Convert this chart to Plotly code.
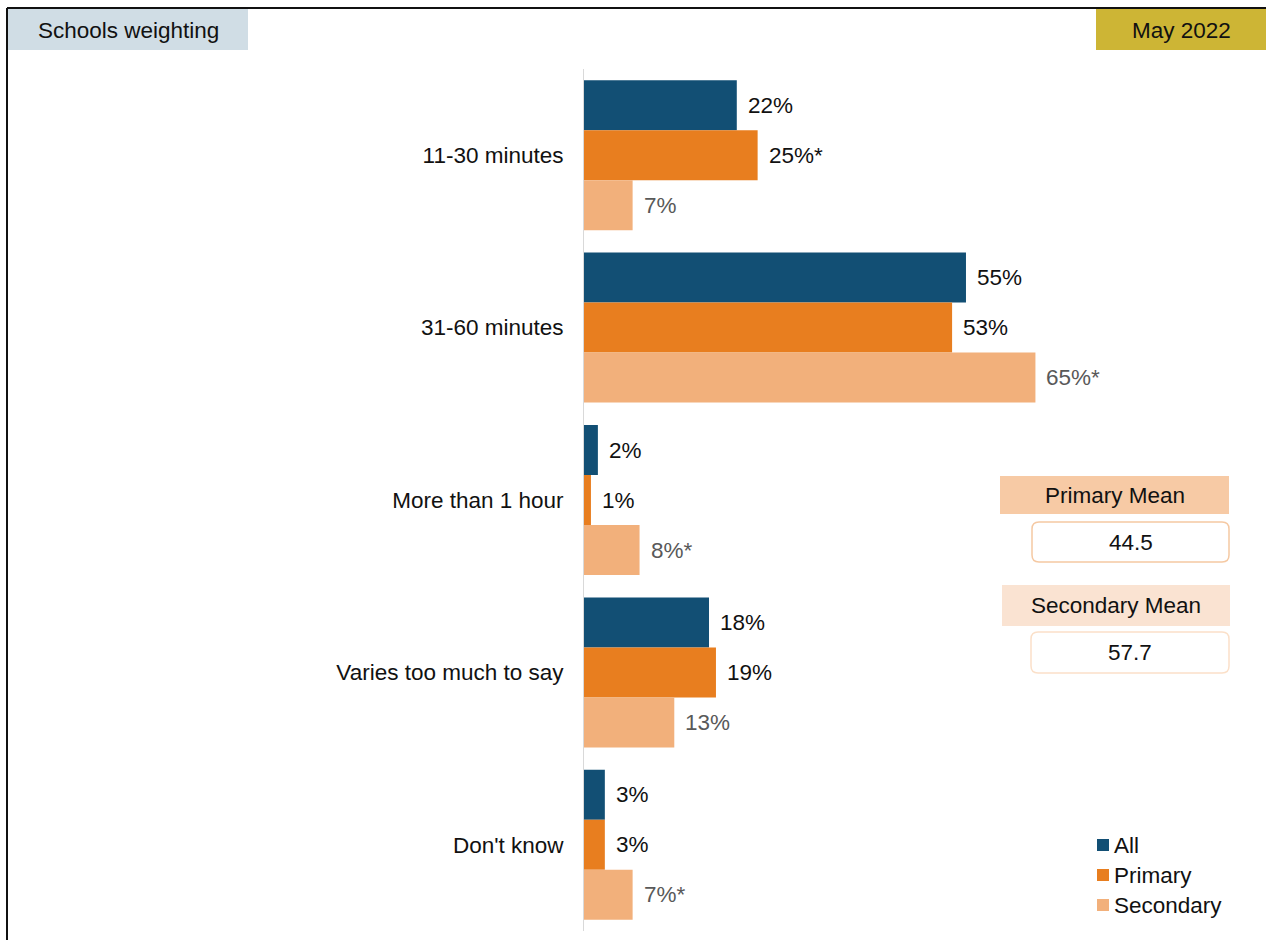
import plotly.graph_objects as go

# ---- data ----
categories = ["11-30 minutes", "31-60 minutes", "More than 1 hour",
              "Varies too much to say", "Don't know"]
series_names = ["All", "Primary", "Secondary"]
all_vals = [22, 55, 2, 18, 3]
primary_vals = [25, 53, 1, 19, 3]
secondary_vals = [7, 65, 8, 13, 7]
# significance markers shown after the percentage
primary_sig = [True, False, False, False, False]
secondary_sig = [False, True, True, False, True]
all_sig = [False] * 5

means_labels = ["Primary Mean", "Secondary Mean"]
means_values = [44.5, 57.7]

header_left = "Schools weighting"
header_right = "May 2022"

# ---- styling ----
FONT = "Liberation Sans, Arial, sans-serif"
FS = 22.5
colors = ["#124f74", "#e87e1f", "#f2b07b"]
label_colors = ["#111111", "#111111", "#595959"]

W, H = 1266, 940
PL, PR, PT, PB = 584, 1240, 69, 931  # plot area in pixels
X_MAX = (PR - PL) / 6.945


def fx(px):
    return (px - PL) / (PR - PL)


def fy(py):
    return (PB - py) / (PB - PT)


fig = go.Figure()
values = [all_vals, primary_vals, secondary_vals]
sigs = [all_sig, primary_sig, secondary_sig]
for name, vals, col in zip(series_names, values, colors):
    fig.add_trace(go.Bar(
        y=categories, x=vals, name=name, orientation="h",
        marker=dict(color=col, line=dict(width=0)),
        showlegend=False, hoverinfo="skip",
    ))

annotations = []
shapes = []

# value labels beside each bar
offsets = [-50, 0, 50]
for s, (vals, sg) in enumerate(zip(values, sigs)):
    for cat, v, star in zip(categories, vals, sg):
        annotations.append(dict(
            x=v, y=cat, xref="x", yref="y",
            text=f"{v}%" + ("*" if star else ""),
            showarrow=False, xanchor="left", yanchor="middle",
            xshift=9, yshift=-offsets[s],
            font=dict(family=FONT, size=FS, color=label_colors[s]),
        ))

# outer frame lines (top and left)
shapes.append(dict(type="line", xref="paper", yref="paper",
                   x0=fx(7), x1=fx(1266), y0=fy(8), y1=fy(8),
                   line=dict(color="#111111", width=2)))
shapes.append(dict(type="line", xref="paper", yref="paper",
                   x0=fx(7), x1=fx(7), y0=fy(8), y1=fy(940),
                   line=dict(color="#111111", width=2)))


def rect(x0, y0, x1, y1, fill, line_color=None, lw=0):
    return dict(type="rect", xref="paper", yref="paper",
                x0=fx(x0), x1=fx(x1), y0=fy(y0), y1=fy(y1),
                fillcolor=fill, layer="below",
                line=dict(color=line_color or fill, width=lw))


def rounded(x0, y0, x1, y1, r, color):
    a, b, c, d = fx(x0), fx(x1), fy(y0), fy(y1)
    rx = r / (PR - PL)
    ry = r / (PB - PT)
    path = (f"M{a + rx},{c} L{b - rx},{c} Q{b},{c} {b},{c - ry} "
            f"L{b},{d + ry} Q{b},{d} {b - rx},{d} "
            f"L{a + rx},{d} Q{a},{d} {a},{d + ry} "
            f"L{a},{c - ry} Q{a},{c} {a + rx},{c} Z")
    return dict(type="path", xref="paper", yref="paper", path=path,
                fillcolor="white", line=dict(color=color, width=1.5))


def text(px, py, t, anchor="center", size=FS):
    return dict(x=fx(px), y=fy(py), xref="paper", yref="paper", text=t,
                showarrow=False, xanchor=anchor, yanchor="middle",
                font=dict(family=FONT, size=size, color="#111111"))


# header tags
shapes.append(rect(8, 9, 248, 50, "#d0dde5"))
annotations.append(text(128, 30, header_left))
shapes.append(rect(1096, 9, 1266, 50, "#cdb535"))
annotations.append(text(1181, 30, header_right))

# mean boxes
mean_boxes = [
    dict(head=(1000, 476, 1229, 514), fill="#f7caa5",
         val=(1032, 522, 1229, 562), border="#f5c9a3"),
    dict(head=(1002, 585, 1230, 626), fill="#fae3d2",
         val=(1031, 632, 1229, 673), border="#fbe0c9"),
]
for lbl, val, box in zip(means_labels, means_values, mean_boxes):
    hx0, hy0, hx1, hy1 = box["head"]
    shapes.append(rect(hx0, hy0, hx1, hy1, box["fill"]))
    annotations.append(text((hx0 + hx1) / 2, (hy0 + hy1) / 2, lbl))
    vx0, vy0, vx1, vy1 = box["val"]
    shapes.append(rounded(vx0, vy0, vx1, vy1, 7, box["border"]))
    annotations.append(text((vx0 + vx1) / 2, (vy0 + vy1) / 2, f"{val}"))

# legend
for i, (name, col) in enumerate(zip(series_names, colors)):
    cy = 845 + 30 * i
    shapes.append(dict(type="rect", xref="paper", yref="paper",
                       x0=fx(1097), x1=fx(1109), y0=fy(cy - 6), y1=fy(cy + 6),
                       fillcolor=col, line=dict(width=0)))
    annotations.append(text(1112, cy, name, anchor="left"))

fig.update_layout(
    width=W, height=H,
    margin=dict(l=PL, r=W - PR, t=PT, b=H - PB, autoexpand=False),
    paper_bgcolor="white", plot_bgcolor="white",
    barmode="group", bargap=0.13, bargroupgap=0,
    font=dict(family=FONT, size=FS, color="#111111"),
    xaxis=dict(range=[0, X_MAX], visible=False, fixedrange=True),
    yaxis=dict(autorange="reversed", showline=True, linecolor="#d9d9d9",
               linewidth=1, showgrid=False, zeroline=False, ticks="",
               ticklabelstandoff=15,
               tickfont=dict(family=FONT, size=FS, color="#111111")),
    annotations=annotations, shapes=shapes,
)

fig.write_html("out.html")
